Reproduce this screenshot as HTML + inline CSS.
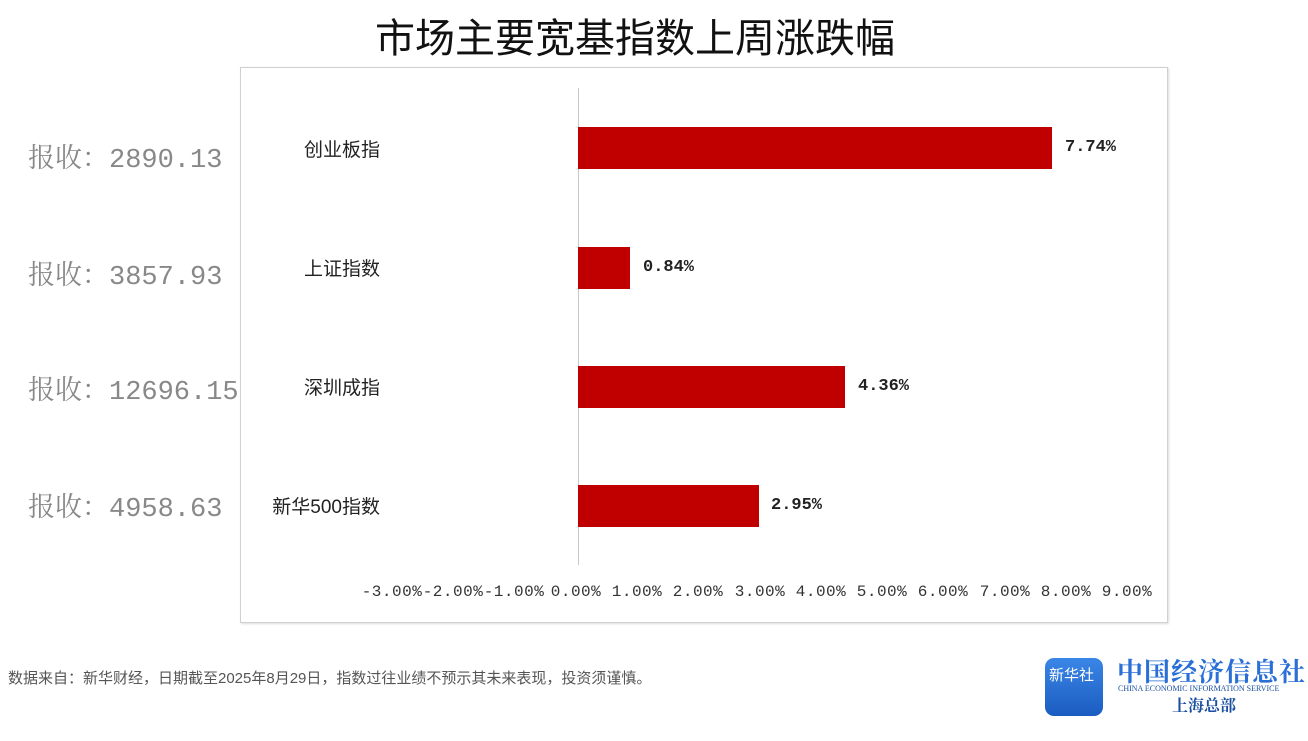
<!DOCTYPE html>
<html><head><meta charset="utf-8"><style>
body{margin:0;width:1308px;height:741px;background:#fff;position:relative;overflow:hidden;font-family:"Liberation Serif","Noto Serif CJK SC",serif}
.a{position:absolute;white-space:nowrap}
.t{left:0;width:1270px;top:6px;text-align:center;font-size:40px;color:#111;font-family:"Liberation Sans","Noto Sans CJK SC",sans-serif}
.box{left:240px;top:67px;width:926px;height:554px;border:1px solid #d0d0d0;box-shadow:1px 1px 2px #ddd}
.l{left:28px;font-size:27px;color:#888;font-family:"Liberation Mono","Noto Serif CJK SC",monospace}
.n{font-size:19px;color:#222;font-family:"Liberation Sans","Noto Sans CJK SC",sans-serif;text-align:right;width:200px;left:180px}
.bar{background:#c00000;left:578px;height:42px}
.v{font-size:17px;font-weight:bold;color:#222;font-family:"Liberation Mono",monospace}
.x{top:583px;width:62px;text-align:center;font-size:16px;color:#333;font-family:"Liberation Mono",monospace;letter-spacing:0.5px}
.f{left:8px;top:667px;font-size:15px;color:#555;font-family:"Liberation Sans","Noto Sans CJK SC",sans-serif}
</style></head><body>
<div class="a t">市场主要宽基指数上周涨跌幅</div>
<div class="a box"></div>
<div class="a" style="left:578px;top:88px;width:1px;height:477px;background:#c8c8c8"></div>
<div class="a l" style="top:136px">报收：2890.13</div>
<div class="a l" style="top:253px">报收：3857.93</div>
<div class="a l" style="top:368px">报收：12696.15</div>
<div class="a l" style="top:485px">报收：4958.63</div>
<div class="a n" style="top:135px">创业板指</div>
<div class="a n" style="top:254px">上证指数</div>
<div class="a n" style="top:373px">深圳成指</div>
<div class="a n" style="top:492px">新华500指数</div>
<div class="a bar" style="top:127px;width:474px"></div>
<div class="a bar" style="top:247px;width:52px"></div>
<div class="a bar" style="top:366px;width:267px"></div>
<div class="a bar" style="top:485px;width:181px"></div>
<div class="a v" style="left:1065px;top:138px">7.74%</div>
<div class="a v" style="left:643px;top:258px">0.84%</div>
<div class="a v" style="left:858px;top:377px">4.36%</div>
<div class="a v" style="left:771px;top:496px">2.95%</div>
<div class="a x" style="left:361px">-3.00%</div>
<div class="a x" style="left:422px">-2.00%</div>
<div class="a x" style="left:483px">-1.00%</div>
<div class="a x" style="left:545px">0.00%</div>
<div class="a x" style="left:606px">1.00%</div>
<div class="a x" style="left:667px">2.00%</div>
<div class="a x" style="left:729px">3.00%</div>
<div class="a x" style="left:790px">4.00%</div>
<div class="a x" style="left:851px">5.00%</div>
<div class="a x" style="left:912px">6.00%</div>
<div class="a x" style="left:974px">7.00%</div>
<div class="a x" style="left:1035px">8.00%</div>
<div class="a x" style="left:1096px">9.00%</div>
<div class="a f">数据来自：新华财经，日期截至2025年8月29日，指数过往业绩不预示其未来表现，投资须谨慎。</div>
<div class="a" style="left:1045px;top:658px;width:58px;height:58px;border-radius:9px;background:linear-gradient(#3a86e6,#1b5cc0)"></div>
<div class="a" style="left:1049px;top:664px;font-size:15px;color:#fff;font-family:'Noto Sans CJK SC',sans-serif">新华社</div>
<div class="a" style="left:1117px;top:652px;font-size:26px;font-weight:bold;color:#2a6fd6;font-family:'Noto Serif CJK SC',serif;letter-spacing:1px">中国经济信息社</div>
<div class="a" style="left:1118px;top:684px;font-size:8px;color:#1a4fa0">CHINA ECONOMIC INFORMATION SERVICE</div>
<div class="a" style="left:1172px;top:693px;font-size:16px;font-weight:bold;color:#1a4fa0;font-family:'Noto Serif CJK SC',serif">上海总部</div>
</body></html>
